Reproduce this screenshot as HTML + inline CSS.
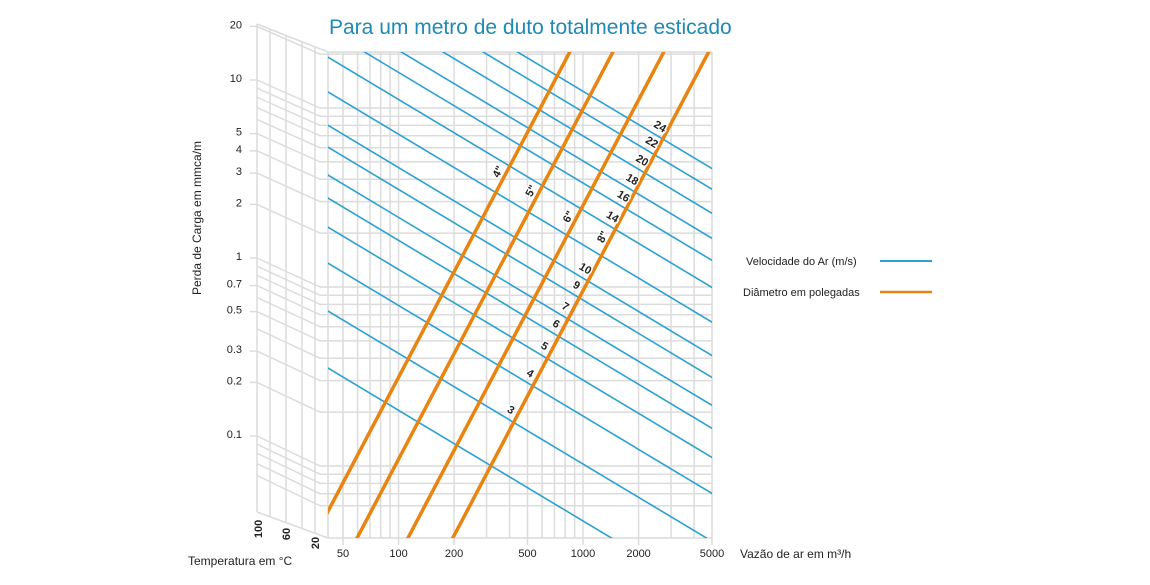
<!DOCTYPE html>
<html><head><meta charset="utf-8">
<style>
html,body{margin:0;padding:0;background:#fff;overflow:hidden;}
svg{display:block;font-family:"Liberation Sans",Arial,sans-serif;}
</style></head>
<body>
<svg id="chart" width="1150" height="585" viewBox="0 0 1150 585" xmlns="http://www.w3.org/2000/svg">
<defs><clipPath id="plotclip"><rect x="328" y="52" width="384" height="486"/></clipPath></defs>
<g id="grid"></g>
<g id="series" clip-path="url(#plotclip)"></g>
<g id="labels"></g>
<text x="329" y="34" font-size="21" fill="#1f8ab5">Para um metro de duto totalmente esticado</text>
<text transform="translate(201,218) rotate(-90)" text-anchor="middle" font-size="12" fill="#222">Perda de Carga em mmca/m</text>
<text x="740" y="558" font-size="12" fill="#222">Vazão de ar em m³/h</text>
<text x="188" y="565" font-size="12" fill="#222">Temperatura em °C</text>
<text transform="translate(262,529) rotate(-90)" text-anchor="middle" font-size="11" font-weight="bold" fill="#222">100</text>
<text transform="translate(290,534) rotate(-90)" text-anchor="middle" font-size="11" font-weight="bold" fill="#222">60</text>
<text transform="translate(319,543) rotate(-90)" text-anchor="middle" font-size="11" font-weight="bold" fill="#222">20</text>
<g>
<text x="746" y="265" font-size="11" fill="#222">Velocidade do Ar (m/s)</text>
<line x1="880" y1="261" x2="932" y2="261" stroke="#2aa0d4" stroke-width="2"/>
<text x="743" y="296" font-size="11" fill="#222">Diâmetro em polegadas</text>
<line x1="880" y1="292" x2="932" y2="292" stroke="#e8840f" stroke-width="2.5"/>
</g>
</svg>
<script>
const velocities = [2,3,4,5,6,7,9,10,12,14,16,18,20,22,24];
const velocityPressureAt1000 = [0.0493,0.1026,0.190,0.302,0.439,0.590,0.845,1.12,1.72,2.69,3.81,5.06,6.98,9.51,12.4];
const velocityLabeled = [3,4,5,6,7,9,10,14,16,18,20,22,24];
const diameters = ['4"','5"','6"','8"'];
const diameterFlowAtUnitLoss = [181,310,585,1024];
const diameterLabelPressure = [4.39,3.43,2.46,1.90];
const xTicks = [50,100,200,500,1000,2000,5000];
const yTicks = [20,10,5,4,3,2,1,0.7,0.5,0.3,0.2,0.1];
const velExp = -0.618, diamExp = 1.958;

const NS='http://www.w3.org/2000/svg';
const L=Math.log10;
function xS(q){return 343+184.5*L(q/50);}
function yF(p){return 287-179*L(p);}
function yB(p){return 258-178*L(p);}
function mk(tag,attrs,parent){const e=document.createElementNS(NS,tag);for(const k in attrs)e.setAttribute(k,attrs[k]);parent.appendChild(e);return e;}
const grid=document.getElementById('grid'), series=document.getElementById('series'), labels=document.getElementById('labels');
const GC='#dcdcdc';
const gp=[];
[0.06,0.07,0.08,0.09].forEach(v=>gp.push(v));
[0.1,1,10].forEach(d=>{for(let i=1;i<10;i++){const v=+(d*i).toPrecision(3);if(v<=20)gp.push(v);}});
gp.push(20);
const gq=[];
[10,100,1000].forEach(d=>{for(let i=1;i<10;i++){const v=d*i;if(v>=50&&v<=5000)gq.push(v);}});
const bxs=[257,270,286,302,315];
bxs.forEach(x=>{const t=(x-257)/71;
  const l=mk('line',{x1:x,y1:24+28*t,x2:x,y2:512+26*t,stroke:GC,'stroke-width':1.5},grid);
  
  });
const uniq=[...new Set(gp)];
uniq.forEach(p=>{
  const pl=mk('polyline',{points:`257,${yB(p)} 320,${yF(p)} 712,${yF(p)}`,fill:'none',stroke:GC,'stroke-width':1.5},grid);
  
  });
mk('line',{x1:257,y1:24,x2:328,y2:52,stroke:GC,'stroke-width':1.5},grid);
mk('line',{x1:257,y1:512,x2:328,y2:538,stroke:GC,'stroke-width':1.5},grid);
mk('line',{x1:328,y1:52,x2:712,y2:52,stroke:GC,'stroke-width':1.5},grid);
mk('line',{x1:328,y1:538,x2:712,y2:538,stroke:GC,'stroke-width':1.5},grid);
mk('line',{x1:328,y1:52,x2:328,y2:538,stroke:GC,'stroke-width':1.5},grid);
gq.forEach(q=>{
  const l=mk('line',{x1:xS(q),y1:52,x2:xS(q),y2:538,stroke:GC,'stroke-width':1.5},grid);
  
  });
yTicks.forEach(p=>{
  mk('line',{x1:250,y1:yB(p),x2:257,y2:yB(p),stroke:GC,'stroke-width':1.5},grid);
  const t=mk('text',{x:242,y:yB(p)+2,'text-anchor':'end','font-size':11,fill:'#222'},grid);
  t.textContent=String(p);
  
  });
xTicks.forEach(q=>{
  mk('line',{x1:xS(q),y1:538,x2:xS(q),y2:545,stroke:GC,'stroke-width':1.5},grid);
  const t=mk('text',{x:xS(q),y:557,'text-anchor':'middle','font-size':11,fill:'#222'},grid);
  t.textContent=String(q);
  
  });
velocities.forEach((v,i)=>{
  const pb=velocityPressureAt1000[i];
  const f=q=>pb*Math.pow(q/1000,velExp);
  const l=mk('line',{x1:xS(30),y1:yF(f(30)),x2:xS(8000),y2:yF(f(8000)),stroke:'#2aa0d4','stroke-width':1.6},series);
  
  
});
diameters.forEach((d,i)=>{
  const q1=diameterFlowAtUnitLoss[i];
  const f=q=>Math.pow(q/q1,diamExp);
  const l=mk('line',{x1:xS(20),y1:yF(f(20)),x2:xS(8000),y2:yF(f(8000)),stroke:'#e8840f','stroke-width':3.5},series);
  
  
  const pl=diameterLabelPressure[i];
  const ql=q1*Math.pow(pl,1/diamExp);
  const tx=xS(ql)-8, ty=yF(pl);
  const t=mk('text',{transform:`translate(${tx},${ty}) rotate(-62)`,'text-anchor':'middle','dominant-baseline':'middle','font-size':11,'font-weight':'bold',fill:'#222',stroke:'#fff','stroke-width':3,'paint-order':'stroke'},labels);
  t.textContent=d;
  
  
});
const q8=diameterFlowAtUnitLoss[3];
velocities.forEach((v,i)=>{
  if(velocityLabeled.indexOf(v)<0)return;
  const pb=velocityPressureAt1000[i];
  const Lq=(L(pb)-3*velExp+diamExp*L(q8))/(diamExp-velExp);
  const q=Math.pow(10,Lq);
  const p=pb*Math.pow(q/1000,velExp);
  const tx=xS(q)-3, ty=yF(p)-12;
  const t=mk('text',{transform:`translate(${tx},${ty}) rotate(31)`,'text-anchor':'middle','dominant-baseline':'middle','font-size':11,'font-weight':'bold',fill:'#222',stroke:'#fff','stroke-width':3,'paint-order':'stroke'},labels);
  t.textContent=String(v);
  
  
});
</script>
</body></html>
